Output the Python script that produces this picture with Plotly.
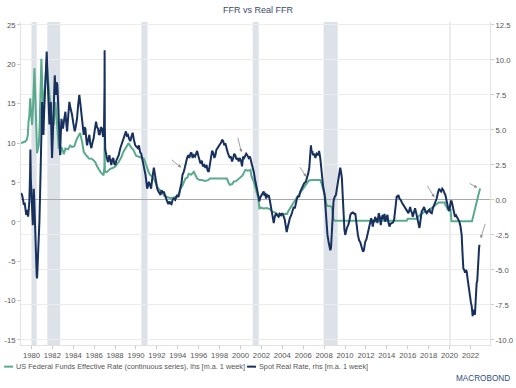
import plotly.graph_objects as go

# ---------------- data (decimal years) ----------------
ffr_dates = [1979.0, 1979.2, 1979.4, 1979.55, 1979.65, 1979.72, 1979.8, 1979.88, 1979.95, 1980.05, 1980.15, 1980.22,
             1980.29, 1980.36, 1980.45, 1980.54, 1980.62, 1980.7, 1980.78, 1980.86, 1980.95, 1981.02, 1981.08, 1981.15,
             1981.22, 1981.3, 1981.38, 1981.46, 1981.55, 1981.65, 1981.75, 1981.85, 1981.97, 1982.05, 1982.13, 1982.2,
             1982.29, 1982.37, 1982.45, 1982.53, 1982.61, 1982.69, 1982.77, 1982.85, 1982.93, 1983.1, 1983.25, 1983.5,
             1983.7, 1983.88, 1984.1, 1984.3, 1984.52, 1984.65, 1984.84, 1985.0, 1985.2, 1985.5, 1985.8, 1986.1, 1986.3,
             1986.6, 1986.9, 1986.98, 1987.0, 1987.03, 1987.23, 1987.5, 1987.7, 1988.0, 1988.34, 1988.6, 1988.8, 1989.05,
             1989.3, 1989.5, 1989.77, 1990.0, 1990.2, 1990.5, 1990.75, 1990.9, 1991.07, 1991.25, 1991.39, 1991.55, 1991.71,
             1991.85, 1992.03, 1992.3, 1992.5, 1992.7, 1992.98, 1993.3, 1993.6, 1993.94, 1994.1, 1994.26, 1994.45, 1994.73,
             1994.9, 1995.05, 1995.3, 1995.53, 1995.7, 1995.85, 1996.1, 1996.3, 1996.6, 1996.9, 1997.1, 1997.5, 1997.9,
             1998.3, 1998.7, 1998.85, 1998.97, 1999.2, 1999.35, 1999.6, 1999.99, 2000.2, 2000.46, 2000.7, 2000.95, 2001.05,
             2001.27, 2001.45, 2001.6, 2001.7, 2001.81, 2001.95, 2002.2, 2002.5, 2002.85, 2003.0, 2003.3, 2003.5, 2004.0,
             2004.45, 2004.6, 2004.8, 2005.1, 2005.35, 2005.6, 2005.85, 2006.1, 2006.36, 2006.55, 2006.84, 2007.2, 2007.63,
             2007.75, 2007.86, 2008.0, 2008.1, 2008.2, 2008.3, 2008.5, 2008.75, 2008.82, 2008.9, 2009.0, 2009.2, 2011.0,
             2013.0, 2015.9, 2016.0, 2016.9, 2017.0, 2017.2, 2017.45, 2017.95, 2018.22, 2018.47, 2018.73, 2018.97, 2019.55,
             2019.6, 2019.72, 2019.83, 2020.1, 2020.14, 2020.18, 2022.15, 2022.2, 2022.33, 2022.43, 2022.56, 2022.7,
             2022.84, 2022.92]
ffr_values = [10.0, 10.1, 10.2, 10.4, 11.0, 12.7, 13.5, 15.7, 13.8, 12.3, 14.5, 17.0,
              19.5, 16.5, 12.0, 8.7, 9.3, 9.7, 12.0, 15.5, 20.7, 18.0, 14.0, 15.5,
              16.0, 17.4, 19.0, 20.3, 18.5, 17.4, 15.6, 14.5, 12.5, 13.5, 12.3, 14.5,
              15.2, 14.0, 12.7, 11.0, 9.3, 10.2, 8.5, 9.5, 9.3, 8.6, 9.3, 9.2,
              9.7, 9.5, 9.6, 10.4, 11.0, 11.3, 10.2, 8.9, 8.5, 8.05, 8.0, 7.6, 7.0,
              6.35, 5.9, 7.0, 11.9, 6.3, 6.35, 6.7, 6.8, 7.0, 7.6, 8.2, 8.9, 9.4,
              10.0, 9.5, 9.1, 8.4, 8.3, 8.2, 8.05, 7.5, 6.8, 6.2, 5.9, 5.8, 5.5,
              5.0, 4.45, 4.0, 3.8, 3.3, 3.2, 3.0, 3.1, 3.2, 3.3, 4.2, 4.6, 5.5,
              5.6, 6.1, 6.0, 6.35, 5.8, 5.5, 5.3, 5.3, 5.2, 5.3, 5.5, 5.5, 5.5,
              5.5, 5.5, 5.0, 4.7, 4.8, 5.1, 5.2, 5.7, 5.9, 6.6, 6.5, 6.6, 5.8,
              5.1, 4.2, 3.8, 3.0, 1.7, 1.8, 1.7, 1.75, 1.6, 1.3, 1.2, 1.0, 1.0,
              1.0, 1.4, 1.9, 2.5, 3.0, 3.5, 4.0, 4.5, 5.0, 5.25, 5.3, 5.3, 5.3,
              4.9, 4.3, 3.9, 3.2, 2.3, 2.0, 2.0, 1.9, 1.0, 0.3, 0.15, 0.15, 0.1,
              0.1, 0.13, 0.38, 0.4, 0.66, 0.91, 1.16, 1.42, 1.68, 1.91, 2.18, 2.45, 2.45,
              2.13, 1.9, 1.55, 1.55, 0.65, 0.08, 0.08, 0.33, 0.83, 1.58, 2.33, 3.08,
              3.83, 4.25]

real_dates = [1979.0, 1979.1, 1979.2, 1979.27, 1979.35, 1979.42, 1979.5, 1979.6, 1979.68, 1979.75, 1979.8, 1979.87,
              1979.9, 1979.94, 1980.0, 1980.06, 1980.13, 1980.18, 1980.22, 1980.27, 1980.32, 1980.38, 1980.45, 1980.5,
              1980.54, 1980.58, 1980.64, 1980.7, 1980.76, 1980.82, 1980.89, 1980.95, 1981.02, 1981.08, 1981.15, 1981.2,
              1981.27, 1981.35, 1981.42, 1981.46, 1981.52, 1981.59, 1981.65, 1981.72, 1981.78, 1981.85, 1981.9, 1981.97,
              1982.03, 1982.1, 1982.16, 1982.23, 1982.3, 1982.36, 1982.42, 1982.48, 1982.55, 1982.61, 1982.67, 1982.74,
              1982.8, 1982.87, 1982.95, 1983.02, 1983.12, 1983.25, 1983.33, 1983.41, 1983.52, 1983.63, 1983.72, 1983.8,
              1983.88, 1984.0, 1984.14, 1984.25, 1984.36, 1984.47, 1984.58, 1984.66, 1984.77, 1984.88, 1985.0, 1985.08,
              1985.16, 1985.24, 1985.32, 1985.43, 1985.54, 1985.63, 1985.73, 1985.84, 1985.95, 1986.06, 1986.18, 1986.27,
              1986.37, 1986.45, 1986.53, 1986.64, 1986.75, 1986.85, 1986.94, 1986.99, 1987.0, 1987.02, 1987.06, 1987.13,
              1987.22, 1987.32, 1987.39, 1987.45, 1987.55, 1987.64, 1987.74, 1987.83, 1987.92, 1988.02, 1988.11, 1988.21,
              1988.35, 1988.5, 1988.65, 1988.82, 1988.93, 1989.04, 1989.13, 1989.23, 1989.33, 1989.45, 1989.56, 1989.68,
              1989.8, 1989.93, 1990.05, 1990.19, 1990.28, 1990.4, 1990.5, 1990.6, 1990.7, 1990.8, 1990.91, 1991.0,
              1991.07, 1991.15, 1991.23, 1991.33, 1991.45, 1991.55, 1991.62, 1991.71, 1991.8, 1991.87, 1991.95, 1992.03,
              1992.15, 1992.25, 1992.35, 1992.45, 1992.55, 1992.66, 1992.78, 1992.88, 1992.98, 1993.1, 1993.2, 1993.3,
              1993.4, 1993.5, 1993.62, 1993.75, 1993.85, 1993.94, 1994.05, 1994.15, 1994.26, 1994.35, 1994.45, 1994.57,
              1994.67, 1994.78, 1994.89, 1995.0, 1995.1, 1995.21, 1995.3, 1995.42, 1995.53, 1995.65, 1995.75, 1995.85,
              1995.95, 1996.05, 1996.17, 1996.3, 1996.4, 1996.52, 1996.64, 1996.75, 1996.85, 1996.96, 1997.05, 1997.15,
              1997.28, 1997.38, 1997.5, 1997.6, 1997.7, 1997.8, 1997.92, 1998.05, 1998.15, 1998.24, 1998.35, 1998.45,
              1998.55, 1998.65, 1998.77, 1998.87, 1998.97, 1999.08, 1999.19, 1999.3, 1999.4, 1999.5, 1999.6, 1999.72,
              1999.83, 1999.92, 2000.05, 2000.15, 2000.25, 2000.35, 2000.46, 2000.55, 2000.65, 2000.78, 2000.9, 2001.04,
              2001.15, 2001.27, 2001.38, 2001.49, 2001.58, 2001.68, 2001.75, 2001.81, 2001.9, 2002.0, 2002.1, 2002.22,
              2002.3, 2002.38, 2002.44, 2002.52, 2002.6, 2002.7, 2002.8, 2002.88, 2002.95, 2003.05, 2003.12, 2003.18,
              2003.28, 2003.4, 2003.5, 2003.65, 2003.75, 2003.87, 2003.97, 2004.1, 2004.23, 2004.32, 2004.42, 2004.5,
              2004.61, 2004.72, 2004.86, 2004.97, 2005.09, 2005.2, 2005.3, 2005.4, 2005.5, 2005.6, 2005.72, 2005.85,
              2006.0, 2006.1, 2006.25, 2006.36, 2006.48, 2006.58, 2006.66, 2006.74, 2006.8, 2006.87, 2006.93, 2007.05,
              2007.16, 2007.28, 2007.41, 2007.52, 2007.63, 2007.72, 2007.79, 2007.9, 2008.05, 2008.13, 2008.21, 2008.32,
              2008.43, 2008.52, 2008.59, 2008.66, 2008.75, 2008.82, 2008.9, 2009.0, 2009.13, 2009.25, 2009.38, 2009.46,
              2009.54, 2009.62, 2009.7, 2009.78, 2009.86, 2009.94, 2010.02, 2010.1, 2010.18, 2010.3, 2010.4, 2010.5,
              2010.6, 2010.75, 2010.9, 2010.98, 2011.1, 2011.23, 2011.35, 2011.45, 2011.6, 2011.72, 2011.8, 2011.93,
              2012.05, 2012.15, 2012.25, 2012.34, 2012.42, 2012.5, 2012.58, 2012.66, 2012.75, 2012.82, 2012.88, 2012.95,
              2013.03, 2013.1, 2013.16, 2013.23, 2013.32, 2013.42, 2013.5, 2013.61, 2013.7, 2013.78, 2013.84, 2013.95,
              2014.06, 2014.15, 2014.25, 2014.35, 2014.47, 2014.6, 2014.7, 2014.8, 2014.89, 2014.95, 2015.03, 2015.11,
              2015.2, 2015.33, 2015.45, 2015.59, 2015.7, 2015.84, 2015.95, 2016.07, 2016.15, 2016.23, 2016.32, 2016.4,
              2016.48, 2016.57, 2016.63, 2016.7, 2016.8, 2016.93, 2017.0, 2017.06, 2017.12, 2017.2, 2017.27, 2017.34,
              2017.45, 2017.56, 2017.68, 2017.82, 2017.95, 2018.07, 2018.18, 2018.3, 2018.4, 2018.52, 2018.63, 2018.77,
              2018.88, 2019.0, 2019.08, 2019.19, 2019.3, 2019.41, 2019.5, 2019.6, 2019.7, 2019.79, 2019.88, 2019.98,
              2020.05, 2020.12, 2020.2, 2020.28, 2020.36, 2020.45, 2020.52, 2020.62, 2020.75, 2020.85, 2020.94, 2021.05,
              2021.16, 2021.24, 2021.32, 2021.4, 2021.48, 2021.56, 2021.64, 2021.72, 2021.8, 2021.88, 2021.96, 2022.04,
              2022.12, 2022.17, 2022.21, 2022.27, 2022.34, 2022.39, 2022.43, 2022.5, 2022.55, 2022.59, 2022.65, 2022.69,
              2022.74, 2022.78, 2022.82, 2022.86]
real_values = [0.5, 0.36, 0.0, -0.35, -0.2, -0.8, -1.07, -0.7, -1.2, -0.6, -0.1, 2.0,
               3.6, 1.5, 0.36, -0.6, -1.8, -0.5, 0.8, 0.0, -1.55, -3.2, -4.9, -5.4,
               -5.6, -5.0, -3.9, -2.8, -1.55, 0.2, 2.3, 4.5, 7.0, 6.2, 4.65, 6.0,
               7.5, 8.5, 9.5, 10.6, 9.2, 8.2, 6.5, 5.4, 6.2, 7.0, 5.0, 3.0,
               4.2, 5.8, 7.5, 8.9, 7.8, 7.5, 8.4, 8.2, 7.0, 5.8, 4.5, 3.2,
               4.6, 5.8, 5.3, 5.1, 5.7, 6.3, 5.5, 4.9, 6.0, 7.0, 6.6, 6.4,
               6.1, 5.5, 4.9, 5.3, 5.8, 6.8, 7.5, 7.0, 6.3, 5.4, 4.65, 5.2,
               5.1, 4.4, 3.9, 4.3, 4.65, 4.0, 3.7, 4.1, 4.4, 5.0, 5.6, 5.2,
               5.1, 4.7, 4.65, 5.2, 5.1, 4.5, 4.9, 8.0, 10.7, 5.0, 3.6, 3.2,
               3.0, 2.7, 3.1, 3.2, 2.8, 2.5, 2.9, 3.0, 2.6, 2.5, 2.8, 3.0,
               3.2, 3.7, 4.0, 4.4, 4.6, 4.9, 4.6, 4.65, 4.4, 4.2, 4.5, 4.8,
               4.3, 3.9, 3.8, 3.7, 3.9, 3.4, 3.3, 3.0, 2.5, 2.2, 1.8, 1.2,
               0.8, 1.0, 1.3, 1.1, 0.8, 1.5, 2.0, 2.3, 1.9, 1.55, 1.1, 0.8,
               0.6, 0.5, 0.36, 0.7, 0.5, 0.6, 0.3, 0.1, -0.1, -0.3, -0.1, -0.25,
               -0.3, 0.0, 0.1, 0.0, 0.3, 0.36, 0.2, 0.5, 0.8, 1.2, 1.8, 2.0,
               2.3, 2.7, 3.0, 3.2, 3.0, 3.3, 3.4, 3.0, 3.2, 3.1, 3.4, 3.5,
               3.2, 2.9, 2.6, 2.8, 2.4, 2.5, 2.3, 2.5, 2.1, 2.0, 2.5, 3.0,
               3.5, 3.4, 3.0, 3.2, 3.6, 3.7, 3.9, 4.0, 4.1, 4.3, 4.2, 3.9,
               4.05, 3.7, 3.4, 3.2, 3.0, 3.1, 2.75, 3.0, 3.3, 3.2, 2.9, 3.0,
               2.75, 3.0, 2.8, 2.4, 3.1, 3.0, 3.2, 3.3, 3.2, 3.0, 3.1, 2.75,
               2.3, 2.0, 1.5, 1.1, 0.8, 0.6, 0.2, -0.1, 0.2, 0.36, 0.5, 0.6,
               0.3, 0.5, 0.1, 0.4, 0.2, 0.36, 0.0, -0.4, -0.8, -1.2, -1.4, -1.66,
               -1.2, -0.95, -1.1, -1.2, -1.0, -1.1, -0.95, -1.1, -1.4, -1.9, -2.3, -2.0,
               -1.55, -1.3, -1.07, -0.8, -0.5, -0.6, -0.2, 0.1, 0.3, 0.2, 0.6, 0.8,
               1.0, 1.2, 1.3, 1.55, 1.9, 2.3, 3.3, 3.9, 3.4, 3.5, 3.2, 3.3,
               3.0, 3.3, 3.2, 3.5, 3.0, 2.3, 1.55, 1.0, 0.36, -0.8, -1.8, -2.5,
               -3.0, -3.4, -3.6, -3.4, -2.5, -1.2, -0.1, 0.2, 0.36, 0.9, 1.55, 2.0,
               2.3, 2.0, 1.55, 0.3, -1.55, -2.1, -2.5, -2.2, -2.0, -1.8, -1.55, -1.1,
               -0.95, -0.9, -1.0, -0.95, -1.8, -2.5, -2.9, -3.0, -3.4, -3.7, -3.6, -3.0,
               -2.8, -2.5, -2.2, -2.0, -1.6, -1.3, -1.6, -1.9, -1.4, -1.6, -1.2, -1.5,
               -1.3, -1.66, -1.3, -0.95, -1.2, -1.8, -1.3, -1.07, -1.4, -1.0, -1.55, -1.2,
               -1.07, -1.6, -1.9, -1.7, -1.66, -1.6, -1.4, -0.6, 0.1, 0.3, 0.2, 0.36,
               0.1, 0.0, -0.2, -0.35, -0.5, -0.6, -0.8, -0.95, -0.7, -0.5, -0.8, -0.9,
               -1.2, -0.9, -0.6, -0.6, -0.9, -1.3, -1.6, -1.8, -2.0, -1.6, -1.1, -0.8,
               -0.7, -0.5, -0.8, -0.95, -0.8, -0.7, -0.9, -0.95, -0.6, -0.35, -0.1, 0.1,
               0.5, 0.8, 0.7, 0.6, 0.8, 0.7, 0.5, 0.36, 0.0, -0.35, -0.6, -0.8,
               -0.4, -0.1, -0.1, -0.4, -0.6, -0.9, -1.2, -1.1, -1.3, -1.4, -1.55, -1.9,
               -2.5, -3.8, -4.9, -5.0, -5.2, -5.0, -5.1, -5.6, -6.1, -6.6, -7.0, -7.3,
               -7.6, -8.0, -8.3, -8.0, -7.85, -8.1, -8.2, -7.2, -6.2, -5.95, -5.8, -4.9,
               -4.6, -4.2, -3.5, -3.2]

recession_starts = [1980.0, 1981.52, 1990.52, 2001.17, 2007.95, 2019.98]
recession_ends = [1980.5, 1982.75, 1991.1, 2001.74, 2009.3, 2020.1]

x_tick_years = list(range(1980, 2023, 2))
x_tick_labels = [str(y) for y in x_tick_years]
left_ticks = [-15, -10, -5, 0, 5, 10, 15, 20, 25]
left_tick_labels = ["-15", "-10", "-5", "0", "5", "10", "15", "20", "25"]
right_ticks = [-10, -7.5, -5, -2.5, 0, 2.5, 5, 7.5, 10, 12.5]
right_tick_labels = ["-10.0", "-7.5", "-5.0", "-2.5", "0.0", "2.5", "5.0", "7.5", "10.0", "12.5"]

# arrow annotations: (year, right-axis value, dx, dy)
arrow_years = [1994.33, 2000.09, 2006.27, 2018.55, 2022.65, 2022.98]
arrow_vals = [2.31, 3.41, 1.66, 0.19, 0.88, -2.74]
arrow_dx = [-11, -4, -7, -8, -9, 5]
arrow_dy = [-9, -16, -11, -13, -5, -16]

ffr_name = "US Federal Funds Effective Rate (continuous series), lhs [m.a. 1 week]"
real_name = "Spot Real Rate, rhs [m.a. 1 week]"

GREEN = "#5aaa8c"
NAVY = "#17305e"
FONT = "Liberation Sans, Arial, sans-serif"
TICKC = "#555555"

fig = go.Figure()
fig.add_trace(go.Scatter(x=ffr_dates, y=ffr_values, mode="lines", name=ffr_name,
                         line=dict(color=GREEN, width=2), yaxis="y"))
fig.add_trace(go.Scatter(x=real_dates, y=real_values, mode="lines", name=real_name,
                         line=dict(color=NAVY, width=2), yaxis="y2"))

for s, e in zip(recession_starts, recession_ends):
    fig.add_vrect(x0=s, x1=e, fillcolor="#dde1e8", line_width=0, layer="below")

for xa, ya, dx, dy in zip(arrow_years, arrow_vals, arrow_dx, arrow_dy):
    fig.add_annotation(x=xa, y=ya, xref="x", yref="y2", ax=dx, ay=dy, text="",
                       showarrow=True, arrowhead=2, arrowsize=0.8, arrowwidth=0.8,
                       arrowcolor="#8a8a8a")

# custom legend
leg_y = -0.067
fig.add_shape(type="line", xref="paper", yref="paper", x0=-0.036, x1=-0.017, y0=leg_y, y1=leg_y,
              line=dict(color=GREEN, width=2))
fig.add_annotation(x=-0.0145, y=leg_y, xref="paper", yref="paper", text=ffr_name, showarrow=False,
                   xanchor="left", yanchor="middle", font=dict(family=FONT, size=7.3, color=TICKC))
fig.add_shape(type="line", xref="paper", yref="paper", x0=0.482, x1=0.501, y0=leg_y, y1=leg_y,
              line=dict(color=NAVY, width=2))
fig.add_annotation(x=0.504, y=leg_y, xref="paper", yref="paper", text=real_name, showarrow=False,
                   xanchor="left", yanchor="middle", font=dict(family=FONT, size=7.3, color=TICKC))
# logo text
fig.add_annotation(x=1.047, y=-0.105, xref="paper", yref="paper", text="MACROBOND", showarrow=False,
                   xanchor="right", yanchor="middle", font=dict(family=FONT, size=8.2, color="#2f4f80"))

fig.update_layout(
    width=516, height=388,
    margin=dict(l=21, r=26, t=22, b=43, autoexpand=False),
    paper_bgcolor="white", plot_bgcolor="white",
    showlegend=False,
    title=dict(text="FFR vs Real FFR", x=0.5, xanchor="center", y=0.974, yanchor="middle",
               font=dict(family=FONT, size=9, color="#3b4b6b")),
    font=dict(family=FONT, size=7.7, color=TICKC),
    xaxis=dict(range=[1979.0, 2023.87], tickvals=x_tick_years, ticktext=x_tick_labels, automargin=False,
               showgrid=False, zeroline=False, showline=True, linecolor="#e2e2e2", linewidth=1,
               ticks="outside", ticklen=3, tickcolor="#cccccc", tickfont=dict(size=7.7, color=TICKC)),
    yaxis=dict(range=[-15.64, 25.38], tickvals=left_ticks, ticktext=left_tick_labels, automargin=False,
               showgrid=False, zeroline=False, showline=True, linecolor="#e2e2e2", linewidth=1,
               ticks="outside", ticklen=3, tickcolor="#cccccc", tickfont=dict(size=7.7, color=TICKC)),
    yaxis2=dict(range=[-10.36, 12.71], tickvals=right_ticks, ticktext=right_tick_labels, automargin=False,
                overlaying="y", side="right",
                showgrid=True, gridcolor="#ececec", gridwidth=1,
                zeroline=True, zerolinecolor="#a8a8a8", zerolinewidth=1,
                showline=True, linecolor="#e2e2e2", linewidth=1,
                ticks="outside", ticklen=3, tickcolor="#cccccc", tickfont=dict(size=7.7, color=TICKC)),
)

fig.write_html("out.html", config={"displayModeBar": False},
               post_script="document.body.style.margin='0';document.body.style.overflow='hidden';")
